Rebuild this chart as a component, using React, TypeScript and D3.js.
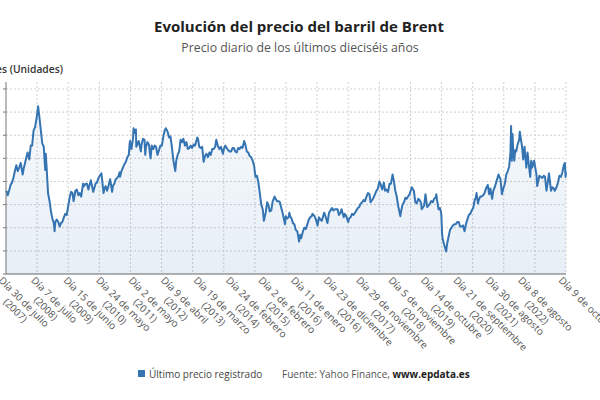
import { useEffect, useRef } from "react";
import * as d3 from "d3";

// Brent, precio de cierre aproximado (lecturas del gráfico), dólares
const dates = [
  "2007-07-30", "2007-08-08", "2007-08-16", "2007-09-01", "2007-09-16", "2007-10-01", "2007-10-16", "2007-11-01", "2007-11-16", "2007-12-01", "2007-12-16",
  "2008-01-01", "2008-01-22", "2008-02-01", "2008-02-16", "2008-03-01", "2008-03-14", "2008-04-01", "2008-04-16", "2008-05-01", "2008-05-16", "2008-06-01", "2008-06-16", "2008-07-03", "2008-07-16", "2008-08-01", "2008-08-16", "2008-09-01", "2008-09-16", "2008-09-22", "2008-10-01", "2008-10-16", "2008-11-01", "2008-11-16", "2008-12-01", "2008-12-16", "2008-12-24",
  "2009-01-01", "2009-01-16", "2009-02-01", "2009-02-16", "2009-03-01", "2009-03-16", "2009-04-01", "2009-04-16", "2009-05-01", "2009-05-16", "2009-06-01", "2009-06-16", "2009-07-01", "2009-07-13", "2009-08-01", "2009-08-16", "2009-09-01", "2009-09-16", "2009-10-01", "2009-10-21", "2009-11-01", "2009-11-16", "2009-12-01", "2009-12-16",
  "2010-01-01", "2010-01-11", "2010-02-05", "2010-02-16", "2010-03-01", "2010-03-16", "2010-04-01", "2010-04-16", "2010-05-03", "2010-05-16", "2010-05-25", "2010-06-01", "2010-06-16", "2010-07-01", "2010-07-16", "2010-08-03", "2010-08-24", "2010-09-01", "2010-09-16", "2010-10-01", "2010-10-16", "2010-11-01", "2010-11-11", "2010-11-16", "2010-12-01", "2010-12-16",
  "2011-01-01", "2011-01-16", "2011-02-01", "2011-02-16", "2011-02-24", "2011-03-01", "2011-03-16", "2011-04-01", "2011-04-08", "2011-04-16", "2011-05-02", "2011-05-06", "2011-05-16", "2011-06-01", "2011-06-23", "2011-07-01", "2011-07-16", "2011-08-01", "2011-08-09", "2011-08-16", "2011-09-01", "2011-09-16", "2011-10-04", "2011-10-16", "2011-11-01", "2011-11-16", "2011-12-01", "2011-12-16",
  "2012-01-01", "2012-01-16", "2012-02-01", "2012-02-16", "2012-03-01", "2012-03-13", "2012-04-01", "2012-04-16", "2012-05-01", "2012-05-16", "2012-06-01", "2012-06-21", "2012-07-01", "2012-07-16", "2012-08-01", "2012-08-16", "2012-09-01", "2012-09-14", "2012-10-01", "2012-10-16", "2012-11-01", "2012-11-16", "2012-12-01", "2012-12-16",
  "2013-01-01", "2013-01-16", "2013-02-08", "2013-02-16", "2013-03-01", "2013-03-16", "2013-04-01", "2013-04-17", "2013-05-01", "2013-05-16", "2013-06-01", "2013-06-16", "2013-07-01", "2013-07-16", "2013-08-01", "2013-08-16", "2013-08-28", "2013-09-16", "2013-10-01", "2013-10-16", "2013-11-06", "2013-11-16", "2013-12-01", "2013-12-16",
  "2014-01-01", "2014-01-16", "2014-02-01", "2014-02-16", "2014-03-01", "2014-03-16", "2014-04-01", "2014-04-16", "2014-05-01", "2014-05-16", "2014-06-01", "2014-06-19", "2014-07-01", "2014-07-16", "2014-08-01", "2014-08-16", "2014-09-01", "2014-09-16", "2014-10-01", "2014-10-16", "2014-11-01", "2014-11-16", "2014-12-01", "2014-12-16",
  "2015-01-01", "2015-01-13", "2015-02-01", "2015-02-16", "2015-03-01", "2015-03-16", "2015-04-01", "2015-04-16", "2015-05-06", "2015-05-16", "2015-06-01", "2015-06-16", "2015-07-01", "2015-07-16", "2015-08-01", "2015-08-24", "2015-09-01", "2015-09-16", "2015-10-01", "2015-10-09", "2015-10-16", "2015-11-01", "2015-11-16", "2015-12-01", "2015-12-16",
  "2016-01-01", "2016-01-20", "2016-02-01", "2016-02-11", "2016-03-01", "2016-03-16", "2016-04-01", "2016-04-16", "2016-05-01", "2016-05-16", "2016-06-01", "2016-06-09", "2016-07-01", "2016-07-16", "2016-08-02", "2016-08-16", "2016-09-01", "2016-09-16", "2016-10-10", "2016-10-16", "2016-11-01", "2016-11-14", "2016-12-01", "2016-12-16",
  "2017-01-01", "2017-01-16", "2017-02-01", "2017-02-16", "2017-03-01", "2017-03-16", "2017-04-01", "2017-04-12", "2017-05-05", "2017-05-16", "2017-06-01", "2017-06-21", "2017-07-01", "2017-07-16", "2017-08-01", "2017-08-16", "2017-09-01", "2017-09-16", "2017-10-01", "2017-10-16", "2017-11-01", "2017-11-16", "2017-12-01", "2017-12-16",
  "2018-01-01", "2018-01-16", "2018-02-01", "2018-02-13", "2018-03-01", "2018-03-16", "2018-04-01", "2018-04-16", "2018-05-01", "2018-05-17", "2018-06-01", "2018-06-16", "2018-07-03", "2018-07-16", "2018-08-01", "2018-08-16", "2018-09-01", "2018-09-16", "2018-10-03", "2018-10-16", "2018-11-01", "2018-11-16", "2018-12-01", "2018-12-24",
  "2019-01-01", "2019-01-16", "2019-02-01", "2019-02-16", "2019-03-01", "2019-03-16", "2019-04-01", "2019-04-24", "2019-05-16", "2019-06-01", "2019-06-16", "2019-07-01", "2019-07-16", "2019-08-01", "2019-08-07", "2019-09-01", "2019-09-16", "2019-10-03", "2019-10-16", "2019-11-01", "2019-11-16", "2019-12-01", "2019-12-16",
  "2020-01-01", "2020-01-08", "2020-01-16", "2020-02-01", "2020-02-16", "2020-03-01", "2020-03-09", "2020-03-16", "2020-04-01", "2020-04-21", "2020-05-01", "2020-05-16", "2020-06-01", "2020-06-16", "2020-07-01", "2020-07-16", "2020-08-01", "2020-08-16", "2020-09-01", "2020-09-16", "2020-10-01", "2020-10-16", "2020-11-01", "2020-11-16", "2020-12-01", "2020-12-16",
  "2021-01-01", "2021-01-16", "2021-02-01", "2021-02-16", "2021-03-01", "2021-03-08", "2021-03-23", "2021-04-01", "2021-04-16", "2021-05-01", "2021-05-16", "2021-06-01", "2021-06-16", "2021-07-05", "2021-07-19", "2021-08-01", "2021-08-20", "2021-09-01", "2021-09-16", "2021-10-01", "2021-10-26", "2021-11-16", "2021-12-01", "2021-12-16",
  "2022-01-01", "2022-01-16", "2022-02-01", "2022-02-16", "2022-03-01", "2022-03-08", "2022-03-16", "2022-03-23", "2022-04-01", "2022-04-11", "2022-04-20", "2022-05-01", "2022-05-16", "2022-06-01", "2022-06-08", "2022-06-16", "2022-07-01", "2022-07-14", "2022-07-28", "2022-08-16", "2022-08-29", "2022-09-16", "2022-09-26", "2022-10-07", "2022-10-16", "2022-11-07", "2022-11-16", "2022-12-01", "2022-12-09", "2022-12-16",
  "2023-01-01", "2023-01-16", "2023-02-01", "2023-02-16", "2023-03-01", "2023-03-17", "2023-04-01", "2023-04-12", "2023-05-04", "2023-05-16", "2023-06-01", "2023-06-12", "2023-07-01", "2023-07-16", "2023-08-01", "2023-08-16", "2023-09-01", "2023-09-16", "2023-09-27", "2023-10-05", "2023-10-09",
];

const prices = [
  72, 71, 68, 72, 77, 79, 83, 89, 94, 89, 92,
  96, 86, 91, 96, 101, 105, 99, 111, 111, 124, 127, 134, 145, 136, 124, 113, 110, 90, 104, 92, 70, 63, 54, 48, 44, 37,
  45, 47, 45, 41, 44, 45, 49, 52, 51, 58, 66, 71, 70, 63, 72, 73, 68, 70, 67, 78, 76, 78, 78, 73,
  78, 81, 71, 74, 78, 79, 83, 85, 87, 77, 70, 73, 76, 72, 76, 82, 71, 76, 78, 82, 83, 85, 88, 84, 89, 92,
  95, 97, 101, 103, 112, 115, 108, 117, 126, 122, 125, 110, 112, 115, 106, 112, 117, 116, 103, 110, 114, 112, 100, 111, 108, 111, 110, 103,
  107, 111, 111, 119, 124, 126, 123, 118, 119, 110, 98, 89, 98, 103, 106, 116, 114, 117, 111, 114, 108, 109, 111, 109,
  112, 111, 118, 117, 110, 109, 110, 97, 102, 104, 101, 105, 103, 108, 108, 110, 116, 110, 108, 110, 104, 108, 111, 109,
  107, 106, 106, 109, 109, 106, 105, 109, 108, 110, 109, 115, 112, 106, 105, 102, 101, 98, 94, 84, 85, 79, 70, 60,
  56, 46, 53, 62, 60, 54, 55, 63, 67, 65, 63, 63, 62, 57, 52, 43, 50, 48, 49, 53, 50, 48, 44, 43, 38,
  37, 28, 34, 31, 37, 40, 39, 43, 47, 49, 50, 52, 50, 47, 42, 49, 47, 46, 53, 52, 48, 44, 53, 55,
  57, 55, 56, 56, 56, 51, 53, 56, 49, 52, 50, 45, 48, 49, 52, 51, 53, 55, 57, 58, 61, 62, 64, 63,
  67, 70, 69, 62, 64, 66, 69, 72, 74, 80, 77, 73, 79, 72, 73, 71, 78, 78, 86, 81, 72, 67, 59, 50,
  54, 60, 62, 66, 65, 67, 69, 75, 72, 62, 61, 65, 64, 61, 56, 59, 69, 58, 59, 61, 63, 62, 65,
  66, 69, 64, 56, 57, 52, 35, 30, 25, 19.5, 26, 32, 38, 40, 42, 43, 43, 45, 45, 41, 41, 42, 37, 43, 47, 51,
  52, 55, 57, 64, 66, 70, 61, 64, 67, 67, 68, 70, 74, 77, 69, 74, 65, 72, 75, 79, 86, 82, 69, 74,
  78, 86, 89, 93, 105, 128, 98, 121, 105, 98, 107, 106, 112, 116, 123, 118, 111, 99, 110, 92, 105, 91, 84, 98, 92, 98, 93, 86, 76, 79,
  85, 84, 83, 85, 84, 72, 80, 87, 72, 75, 74, 72, 75, 79, 85, 84, 88, 94, 96, 84, 88,
];

const yTicks = [0, 20, 40, 60, 80, 100, 120, 140, 160];

const tickDates = [
  "2007-07-30", "2008-07-07", "2009-06-15", "2010-05-24", "2011-05-02", "2012-04-09",
  "2013-03-19", "2014-02-24", "2015-02-02", "2016-01-11", "2016-12-23", "2017-11-29",
  "2018-11-05", "2019-10-14", "2020-09-21", "2021-08-30", "2022-08-08", "2023-10-09",
];
const tickDays = [
  "Día 30 de julio", "Día 7 de julio", "Día 15 de junio", "Día 24 de mayo", "Día 2 de mayo", "Día 9 de abril",
  "Día 19 de marzo", "Día 24 de febrero", "Día 2 de febrero", "Día 11 de enero", "Día 23 de diciembre", "Día 29 de noviembre",
  "Día 5 de noviembre", "Día 14 de octubre", "Día 21 de septiembre", "Día 30 de agosto", "Día 8 de agosto", "Día 9 de octubre",
];
// the last label shows no year line in the picture
const tickYears = [
  "(2007)", "(2008)", "(2009)", "(2010)", "(2011)", "(2012)", "(2013)", "(2014)", "(2015)",
  "(2016)", "(2016)", "(2017)", "(2018)", "(2019)", "(2020)", "(2021)", "(2022)", "",
];

const width = 600;
const height = 400;
const plot = { left: 6, right: 566, top: 82, bottom: 274 };
const font = "'Open Sans', sans-serif";
const blue = "#3574b2";

const App = () => {
  const svgRef = useRef<SVGSVGElement | null>(null);

  useEffect(() => {
    if (!svgRef.current) return;
    const svg = d3.select(svgRef.current);
    svg.selectAll("*").remove();

    const parse = d3.utcParse("%Y-%m-%d");
    const data = dates.map((d, i) => ({ date: parse(d) as Date, value: prices[i] }));

    const x = d3
      .scaleUtc()
      .domain(d3.extent(data, (d) => d.date) as [Date, Date])
      .range([plot.left, plot.right]);
    const y = d3.scaleLinear().domain([0, 166]).range([plot.bottom, plot.top]);

    // titles
    svg
      .append("text")
      .attr("x", 299)
      .attr("y", 32)
      .attr("text-anchor", "middle")
      .attr("font-family", font)
      .attr("font-size", "15px")
      .attr("font-weight", "700")
      .attr("fill", "#222")
      .text("Evolución del precio del barril de Brent");
    svg
      .append("text")
      .attr("x", 300)
      .attr("y", 52)
      .attr("text-anchor", "middle")
      .attr("font-family", font)
      .attr("font-size", "12.3px")
      .attr("fill", "#555")
      .text("Precio diario de los últimos dieciséis años");

    svg
      .append("text")
      .attr("x", 63)
      .attr("y", 73)
      .attr("text-anchor", "end")
      .attr("font-family", font)
      .attr("font-size", "10.3px")
      .attr("font-weight", "600")
      .attr("fill", "#333")
      .text("Dólares (Unidades)");

    // gradient for area
    const gradient = svg
      .append("defs")
      .append("linearGradient")
      .attr("id", "area-gradient")
      .attr("gradientUnits", "userSpaceOnUse")
      .attr("x1", 0)
      .attr("y1", plot.top)
      .attr("x2", 0)
      .attr("y2", plot.bottom);
    gradient.append("stop").attr("offset", "0%").attr("stop-color", blue).attr("stop-opacity", 0.03);
    gradient.append("stop").attr("offset", "100%").attr("stop-color", blue).attr("stop-opacity", 0.12);

    // grid
    const grid = svg.append("g");
    grid
      .selectAll(".hgrid")
      .data(yTicks.filter((t) => t > 0))
      .enter()
      .append("line")
      .attr("x1", plot.left)
      .attr("x2", plot.right)
      .attr("y1", (d) => y(d))
      .attr("y2", (d) => y(d))
      .attr("stroke", "#cfcfcf")
      .attr("stroke-dasharray", "2,2");
    const vgrid = d3.range(1, 19).map((i) => plot.left + (i * (plot.right - plot.left)) / 18);
    grid
      .selectAll(".vgrid")
      .data(vgrid)
      .enter()
      .append("line")
      .attr("x1", (d) => d)
      .attr("x2", (d) => d)
      .attr("y1", plot.top)
      .attr("y2", plot.bottom)
      .attr("stroke", "#cfcfcf")
      .attr("stroke-dasharray", "2,2");

    // area + line
    const area = d3
      .area<{ date: Date; value: number }>()
      .x((d) => x(d.date))
      .y0(y(0))
      .y1((d) => y(d.value));
    svg.append("path").datum(data).attr("d", area).attr("fill", "url(#area-gradient)");

    const line = d3
      .line<{ date: Date; value: number }>()
      .x((d) => x(d.date))
      .y((d) => y(d.value));
    svg
      .append("path")
      .datum(data)
      .attr("d", line)
      .attr("fill", "none")
      .attr("stroke", blue)
      .attr("stroke-width", 2)
      .attr("stroke-linejoin", "round");

    // axes
    svg
      .append("line")
      .attr("x1", plot.left)
      .attr("x2", plot.left)
      .attr("y1", plot.top)
      .attr("y2", plot.bottom)
      .attr("stroke", "#777");
    svg
      .selectAll(".ytick")
      .data(yTicks)
      .enter()
      .append("line")
      .attr("x1", plot.left - 3)
      .attr("x2", plot.left)
      .attr("y1", (d) => y(d))
      .attr("y2", (d) => y(d))
      .attr("stroke", "#777");
    svg
      .append("line")
      .attr("x1", plot.left)
      .attr("x2", plot.right)
      .attr("y1", plot.bottom)
      .attr("y2", plot.bottom)
      .attr("stroke", "#666");

    // x labels
    tickDates.forEach((td, i) => {
      const tx = x(parse(td) as Date);
      const g = svg
        .append("g")
        .attr("transform", `translate(${tx - 8},281) rotate(45)`)
        .attr("font-family", font)
        .attr("font-size", "10px")
        .attr("fill", "#555");
      const first = g.append("text").attr("x", 0).attr("y", 0).text(tickDays[i]);
      const w = (first.node() as SVGTextElement).getComputedTextLength();
      if (tickYears[i]) {
        g.append("text")
          .attr("x", w / 2)
          .attr("y", 12)
          .attr("text-anchor", "middle")
          .text(tickYears[i]);
      }
    });

    // legend
    svg
      .append("rect")
      .attr("x", 138)
      .attr("y", 370)
      .attr("width", 7)
      .attr("height", 7)
      .attr("fill", blue);
    svg
      .append("text")
      .attr("x", 149)
      .attr("y", 378)
      .attr("font-family", font)
      .attr("font-size", "10px")
      .attr("fill", "#444")
      .text("Último precio registrado");
    const src = svg
      .append("text")
      .attr("x", 282)
      .attr("y", 378)
      .attr("font-family", font)
      .attr("font-size", "10px")
      .attr("fill", "#555");
    src.append("tspan").text("Fuente: Yahoo Finance, ");
    src.append("tspan").attr("font-weight", "700").attr("fill", "#222").text("www.epdata.es");
  }, []);

  return (
    <svg
      ref={svgRef}
      width={width}
      height={height}
      style={{ position: "absolute", left: 0, top: 0, background: "#fff" }}
    />
  );
};

export default App;
